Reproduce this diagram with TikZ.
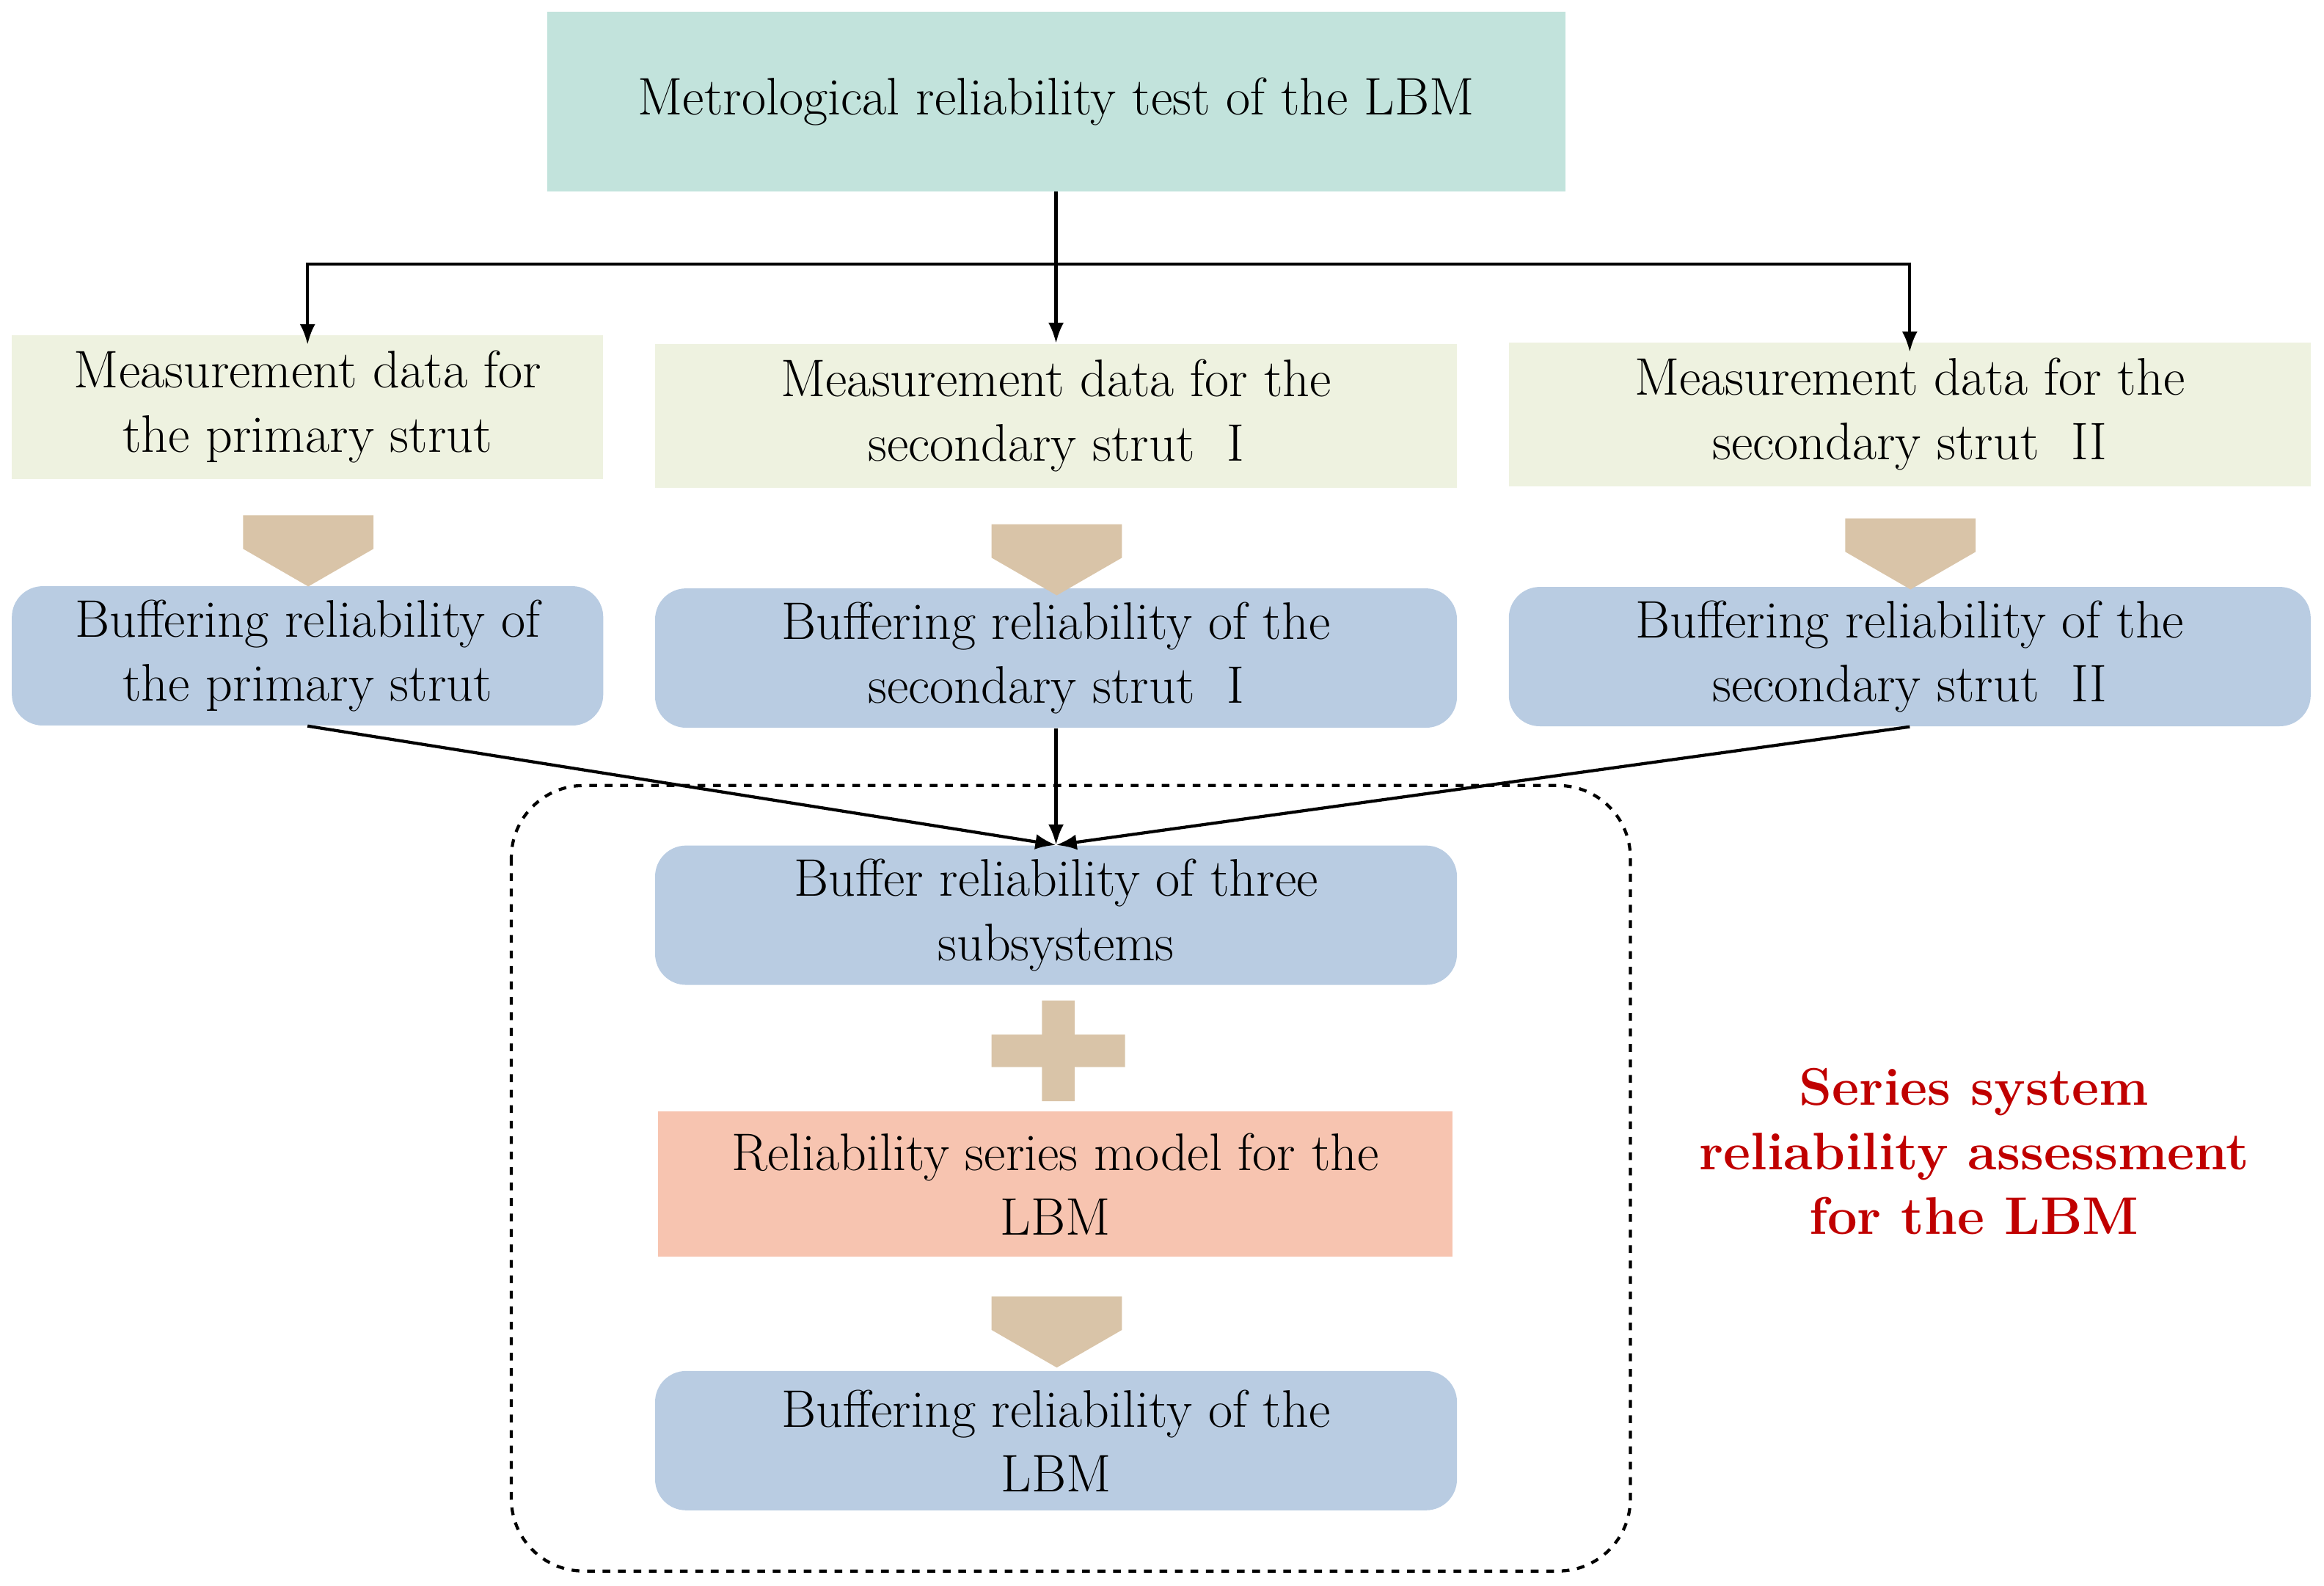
\documentclass[tikz,border=0pt]{standalone}
\usetikzlibrary{arrows.meta,positioning,shapes.arrows}
\definecolor{topc}{HTML}{C2E3DC}
\definecolor{datac}{HTML}{EEF2E0}
\definecolor{bufc}{HTML}{B9CCE2}
\definecolor{modc}{HTML}{F7C4B0}
\definecolor{tanc}{HTML}{D9C4A8}
\definecolor{redc}{HTML}{C00000}
\tikzset{
    box/.style={inner sep=0pt, align=center, font=\fontsize{20.5}{25}\selectfont},
    databox/.style={box, fill=datac, minimum width=541*0.0202cm, minimum height=97*0.0202cm},
    bufbox/.style={box, fill=bufc, rounded corners=12pt, minimum width=541*0.0202cm, minimum height=94*0.0202cm},
    fat/.style={single arrow, fill=tanc, draw=none, shape border rotate=270,
        minimum width=88*0.0202cm, single arrow head extend=0pt, minimum height=48*0.0202cm, inner sep=0pt,
        single arrow tip angle=120},
    link/.style={-{Latex[length=8pt,width=6pt]}, line width=1.2pt}
}
\begin{document}
\begin{tikzpicture}[x=0.0202cm, y=-0.0202cm]
\useasboundingbox (0,0) rectangle (1568,1070);

% top
\node[box, fill=topc, minimum width=687*0.0202cm, minimum height=121*0.0202cm] (test) at (712.5,68.5)
    {Metrological reliability test of the LBM};

% measurement data
\node[databox, minimum width=399*0.0202cm] (dA) at (207.5,274.5) {Measurement data for\\the primary strut};
\node[databox] (dB) at (712.5,280.5) {Measurement data for the\\secondary strut \ I};
\node[databox] (dC) at (1288.5,279.5) {Measurement data for the\\secondary strut \ II};

% buffering
\node[bufbox, minimum width=399*0.0202cm] (bA) at (207.5,442.5) {Buffering reliability of\\the primary strut};
\node[bufbox] (bB) at (712.5,444) {Buffering reliability of the\\secondary strut \ I};
\node[bufbox] (bC) at (1288.5,443) {Buffering reliability of the\\secondary strut \ II};

\node[fat] (fA) at (208,359) {};
\node[fat] (fB) at (713,365) {};
\node[fat] (fC) at (1289,361) {};

% series part
\draw[dashed, line width=1.2pt, rounded corners=28pt] (345,530) rectangle (1100,1060);
\node[bufbox] (three) at (712.5,617.5) {Buffer reliability of three\\subsystems};
\node[box, fill=modc, minimum width=536*0.0202cm, minimum height=98*0.0202cm] (model) at (712,799)
    {Reliability series model for the\\LBM};
\node[bufbox] (lbm) at (712.5,972) {Buffering reliability of the\\LBM};
\fill[tanc] (703,675) rectangle (725,743) (669,698) rectangle (759,720);
\node[fat] (fD) at (713,886) {};

\node[box, text=redc, font=\fontsize{20.5}{25}\selectfont\bfseries] (series) at (1332,777)
    {Series system\\reliability assessment\\for the LBM};

% connectors
\coordinate (split) at (712.5,178);
\draw[line width=1.2pt] (test.south) -- (split);
\draw[link] (split) -| ([yshift=-4pt]dA.north);
\draw[link] (split) -| ([yshift=-4pt]dC.north);
\draw[link] (split) -- (dB.north);
\draw[link] (bA.south) -- (three.north);
\draw[link] (bB.south) -- (three.north);
\draw[link] (bC.south) -- (three.north);
\end{tikzpicture}
\end{document}
